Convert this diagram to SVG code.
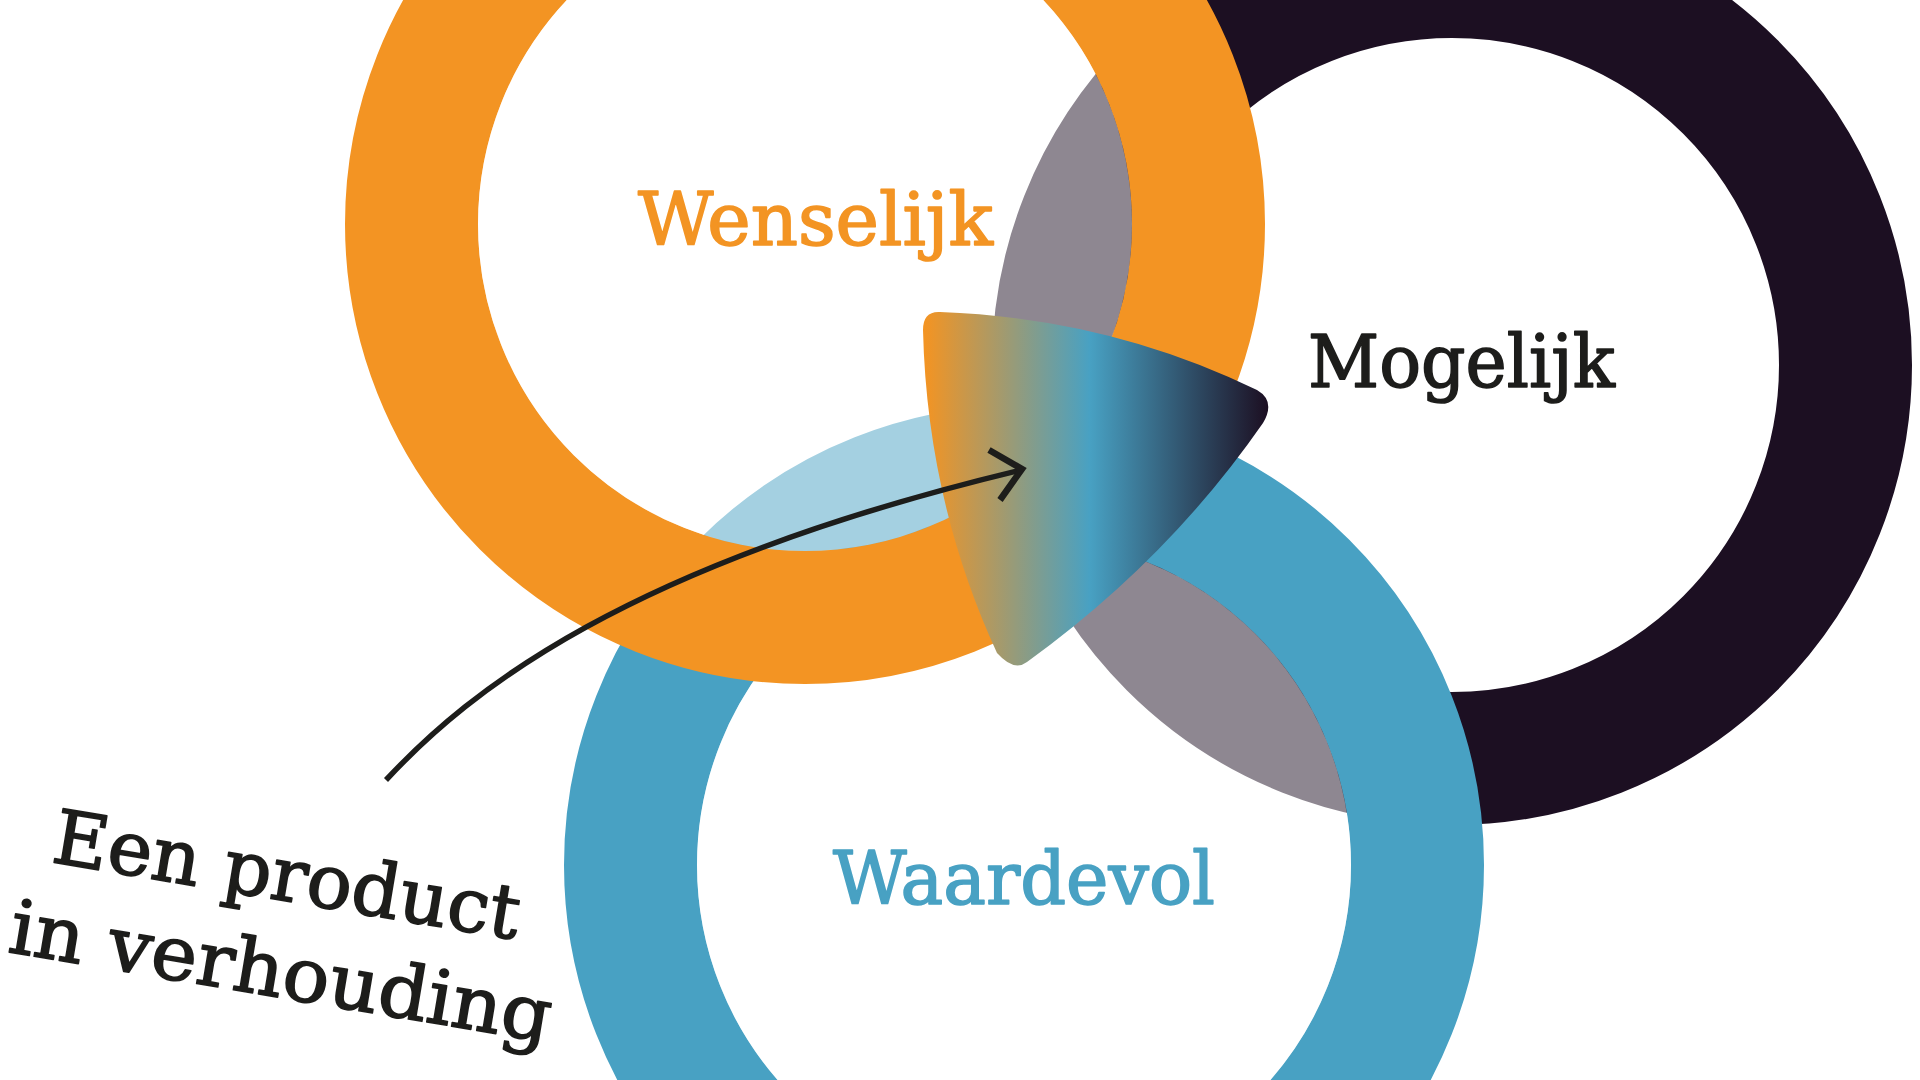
<svg xmlns="http://www.w3.org/2000/svg" width="1920" height="1080" viewBox="0 0 1920 1080">
  <style>
    .band { fill: none; stroke-width: 133; }
    .hole { fill: #ffffff; fill-opacity: 0.5; }
    .label { font-family: "DejaVu Serif", "Liberation Serif", serif; font-size: 72px; stroke-width: 1.6; stroke-linejoin: round; }
    .note { font-family: "DejaVu Serif", "Liberation Serif", serif; font-size: 75px; fill: #1d1d1b; stroke: #1d1d1b; stroke-width: 1.6; stroke-linejoin: round; }
  </style>
  <defs>
    <linearGradient id="grad" gradientUnits="userSpaceOnUse" x1="925" y1="0" x2="1268" y2="0">
      <stop offset="0" stop-color="#f39423"/>
      <stop offset="0.48" stop-color="#48a1c3"/>
      <stop offset="1" stop-color="#1c0f22"/>
    </linearGradient>
  </defs>
  <rect width="1920" height="1080" fill="#ffffff"/>
  <g id="mogelijk">
    <circle class="band" cx="1452" cy="365" r="393.5" stroke="#1c0f22"/>
  </g>
  <g id="waardevol">
    <circle class="band" cx="1024" cy="865" r="393.5" stroke="#48a1c3"/>
    <circle class="hole" cx="1024" cy="865" r="327"/>
  </g>
  <g id="wenselijk">
    <circle class="band" cx="805" cy="224" r="393.5" stroke="#f39423"/>
    <circle class="hole" cx="805" cy="224" r="327"/>
  </g>
  <g id="product">
    <path d="M 940,312 Q 1109,318 1257,390 Q 1276,401 1263,423 Q 1168,560 1027,662 Q 1014,672 997,653 Q 927,501 923,330 Q 923,311 940,312 Z" fill="url(#grad)"/>
  </g>
  <g id="connectors" fill="none" stroke="#1d1d1b" stroke-width="5.5">
    <path d="M 386,780 C 470,690 625,565 1021,470"/>
    <path d="M 989,450 L 1022,469 L 1000,500" stroke-width="6.5"/>
  </g>
  <g id="labels">
    <text class="label" x="638" y="245" fill="#f39423" stroke="#f39423" textLength="355" lengthAdjust="spacingAndGlyphs">Wenselijk</text>
    <text class="label" x="1308" y="387" fill="#1d1d1b" stroke="#1d1d1b" textLength="307" lengthAdjust="spacingAndGlyphs">Mogelijk</text>
    <text class="label" x="833" y="904" fill="#48a1c3" stroke="#48a1c3" textLength="382" lengthAdjust="spacingAndGlyphs">Waardevol</text>
  </g>
  <g id="note" transform="translate(52,862) rotate(9.5)">
    <text class="note" x="-2" y="0" textLength="472" lengthAdjust="spacingAndGlyphs">Een product</text>
    <text class="note" x="-30" y="96" textLength="548" lengthAdjust="spacingAndGlyphs">in verhouding</text>
  </g>
</svg>
